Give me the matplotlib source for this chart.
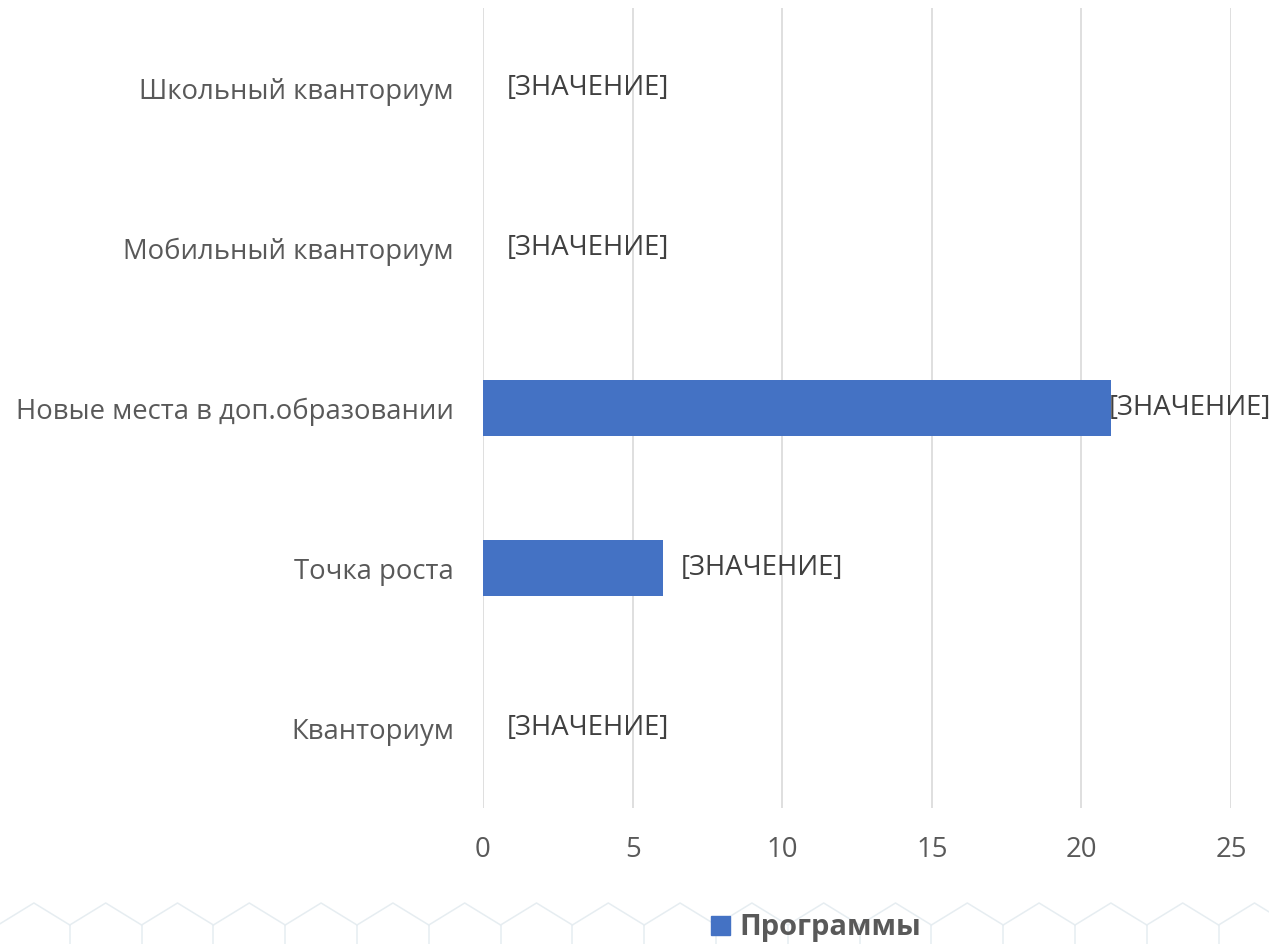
import matplotlib
matplotlib.use("Agg")
import matplotlib.pyplot as plt
from matplotlib.lines import Line2D

categories = ["Кванториум", "Точка роста", "Новые места в доп.образовании",
              "Мобильный кванториум", "Школьный кванториум"]
values = [0, 6, 21, 0, 0]
label_text = "[ЗНАЧЕНИЕ]"
series_name = "Программы"
xticks = [0, 5, 10, 15, 20, 25]

plt.rcParams['font.family'] = ['Open Sans', 'DejaVu Sans']

W, H = 1269, 944
fig = plt.figure(figsize=(W / 100, H / 100), dpi=100)
ax = fig.add_axes([483 / W, 1 - 808 / H, (1231 - 483) / W, 800 / H])

bar_color = "#4472C4"
ypos = list(range(len(categories)))
ax.barh(ypos, values, height=0.35, color=bar_color, zorder=3)

FS = 19.8
ax.set_xlim(0, 25)
ax.set_ylim(-0.5, len(categories) - 0.5)
ax.set_xticks(xticks)
ax.set_xticklabels([str(t) for t in xticks])
ax.set_yticks(ypos)
ax.set_yticklabels(categories)
ax.tick_params(axis='both', length=0, labelsize=FS, colors="#595959")
ax.tick_params(axis='y', pad=21)
ax.tick_params(axis='x', pad=20)
for s in ax.spines.values():
    s.set_visible(False)
ax.grid(axis='x', color="#d9d9d9", linewidth=1.2, zorder=0)
ax.set_axisbelow(True)

# data labels (Excel style)
offsets = [17, 13, -2, 17, 17]
for y, v, off in zip(ypos, values, offsets):
    ax.annotate(label_text, (v, y), xytext=(off, 0), textcoords='offset points',
                ha='left', va='center', fontsize=FS, color="#404040",
                annotation_clip=False)

# decorative hexagon pattern at the bottom
hex_color = "#e6edf1"
step = 71.8
x0 = -2.0
k = 0
while x0 + k * step < W + step:
    xl = x0 + k * step
    xm = xl + step / 2
    xr = xl + step
    fig.add_artist(Line2D([xl / W, xm / W, xr / W],
                          [1 - 925 / H, 1 - 903 / H, 1 - 925 / H],
                          color=hex_color, lw=1.1, transform=fig.transFigure, zorder=0))
    fig.add_artist(Line2D([xl / W, xl / W], [1 - 925 / H, 0],
                          color=hex_color, lw=1.1, transform=fig.transFigure, zorder=0))
    k += 1

# legend
handles = [plt.Rectangle((0, 0), 1, 1, color=bar_color)]
leg = fig.legend(handles, [series_name], loc='center', bbox_to_anchor=(816 / W, 1 - 928 / H),
                 frameon=False, handlelength=0.65, handleheight=0.65, handletextpad=0.3,
                 prop={'size': 21, 'weight': 'bold'})
for t in leg.get_texts():
    t.set_color("#595959")

fig.savefig("out.png", dpi=100, facecolor="white")
